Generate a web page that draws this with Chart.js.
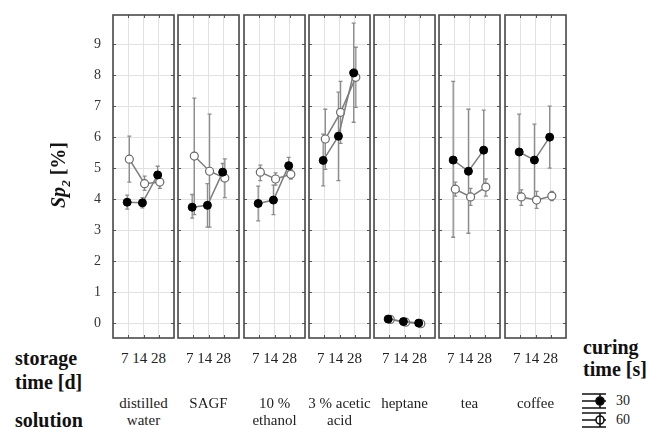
<!DOCTYPE html>
<html>
<head>
<meta charset="utf-8">
<script src="https://cdn.jsdelivr.net/npm/chart.js@4"></script>
<style>
  body { margin: 0; background: #fff; }
  #wrap { position: relative; width: 648px; height: 429px; overflow: hidden; font-family: "Liberation Serif", "Times New Roman", serif; color: #222; }
  #wrap canvas { position: absolute; }
  .t { position: absolute; white-space: nowrap; line-height: 1; }
  .b { font-weight: bold; font-size: 20px; color: #111; }
  .c { transform: translateX(-50%); text-align: center; font-size: 15px; }
</style>
</head>
<body>
<div id="wrap"></div>
<script>
// Daten: Sp2 [%] je Lösung, Lagerzeit 7/14/28 d, Aushärtezeit 30 s und 60 s
const solutions = [['distilled', 'water'], ['SAGF'], ['10 %', 'ethanol'], ['3 % acetic', 'acid'], ['heptane'], ['tea'], ['coffee']];
const days = ['7', '14', '28'];
const curing = ['30', '60'];

const mean30 = [[3.90, 3.88, 4.78], [3.74, 3.80, 4.87], [3.86, 3.97, 5.08], [5.25, 6.03, 8.07], [0.13, 0.05, 0.00], [5.26, 4.90, 5.58], [5.52, 5.26, 6.00]];
const lo30   = [[3.68, 3.72, 4.52], [3.39, 3.10, 4.60], [3.30, 3.50, 4.82], [4.43, 4.60, 6.48], [0.06, -0.02, -0.06], [2.77, 2.90, 4.30], [4.20, 4.05, 5.00]];
const hi30   = [[4.13, 4.05, 5.06], [4.15, 4.50, 5.15], [4.42, 4.45, 5.35], [6.10, 7.45, 9.68], [0.20, 0.12, 0.06], [7.80, 6.90, 6.87], [6.74, 6.42, 7.00]];

const mean60 = [[5.29, 4.50, 4.55], [5.39, 4.90, 4.68], [4.87, 4.65, 4.80], [5.94, 6.80, 7.93], [0.12, 0.03, -0.02], [4.32, 4.07, 4.39], [4.07, 3.97, 4.10]];
const lo60   = [[4.55, 4.28, 4.35], [3.50, 3.10, 4.05], [4.60, 4.45, 4.65], [4.96, 5.80, 6.96], [0.06, -0.03, -0.07], [4.10, 3.80, 4.10], [3.80, 3.70, 3.95]];
const hi60   = [[6.03, 4.74, 4.80], [7.26, 6.74, 5.30], [5.10, 4.85, 4.95], [6.90, 7.80, 8.90], [0.18, 0.08, 0.03], [4.55, 4.35, 4.65], [4.30, 4.25, 4.25]];

const yTicks = [0, 1, 2, 3, 4, 5, 6, 7, 8, 9];

const wrap = document.getElementById('wrap');
const panelLeft = [113, 178, 244, 309, 374, 439, 505];
const panelW = 61, panelTop = 15, panelBottom = 338, pad = 6;

// Rahmen + kleine Striche innen
const framePlugin = {
  id: 'frame',
  afterDraw(chart) {
    const a = chart.chartArea, ctx = chart.ctx;
    const xs = chart.scales.x, ys = chart.scales.y;
    ctx.save();
    ctx.strokeStyle = '#555';
    ctx.lineWidth = 1;
    ctx.beginPath();
    yTicks.forEach(v => {
      const y = Math.round(ys.getPixelForValue(v)) + 0.5;
      ctx.moveTo(a.left, y); ctx.lineTo(a.left + 3, y);
      ctx.moveTo(a.right, y); ctx.lineTo(a.right - 3, y);
    });
    [1, 2, 3].forEach(v => {
      const x = Math.round(xs.getPixelForValue(v)) + 0.5;
      ctx.moveTo(x, a.top); ctx.lineTo(x, a.top + 3);
      ctx.moveTo(x, a.bottom); ctx.lineTo(x, a.bottom - 3);
    });
    ctx.stroke();
    ctx.lineWidth = 1.6;
    ctx.strokeStyle = '#4a4a4a';
    ctx.strokeRect(a.left, a.top, a.right - a.left, a.bottom - a.top);
    ctx.restore();
  }
};

// Fehlerbalken
const errorPlugin = {
  id: 'errbars',
  beforeDatasetsDraw(chart) {
    const ctx = chart.ctx, xs = chart.scales.x, ys = chart.scales.y;
    ctx.save();
    ctx.strokeStyle = '#8c8c8c';
    ctx.lineWidth = 1.3;
    chart.data.datasets.forEach(ds => {
      ds.data.forEach((p, i) => {
        const x = xs.getPixelForValue(p.x);
        const y1 = ys.getPixelForValue(ds.lo[i]);
        const y2 = ys.getPixelForValue(ds.hi[i]);
        ctx.beginPath();
        ctx.moveTo(x, y1); ctx.lineTo(x, y2);
        ctx.moveTo(x - 2, y1); ctx.lineTo(x + 2, y1);
        ctx.moveTo(x - 2, y2); ctx.lineTo(x + 2, y2);
        ctx.stroke();
      });
    });
    ctx.restore();
  }
};

const dodge = [-0.07, 0.07];

solutions.forEach((sol, k) => {
  const first = k === 0;
  const cv = document.createElement('canvas');
  const left = first ? 70 : panelLeft[k] - pad;
  const w = panelLeft[k] + panelW + pad - left;
  const h = panelBottom - panelTop + 2 * pad;
  cv.width = w; cv.height = h;
  cv.style.left = left + 'px';
  cv.style.top = (panelTop - pad) + 'px';
  cv.style.width = w + 'px'; cv.style.height = h + 'px';
  wrap.appendChild(cv);

  const mk = (means, s) => means[k].map((v, i) => ({ x: i + 1 + dodge[s], y: v }));

  new Chart(cv, {
    type: 'line',
    data: {
      datasets: [
        {
          label: curing[0], data: mk(mean30, 0), lo: lo30[k], hi: hi30[k],
          borderColor: '#7d7d7d', borderWidth: 1.5,
          pointRadius: 4, pointBackgroundColor: '#000', pointBorderColor: '#000', pointBorderWidth: 1
        },
        {
          label: curing[1], data: mk(mean60, 1), lo: lo60[k], hi: hi60[k],
          borderColor: '#7d7d7d', borderWidth: 1.5,
          pointRadius: 4, pointBackgroundColor: '#fff', pointBorderColor: '#6a6a6a', pointBorderWidth: 1.2
        }
      ]
    },
    options: {
      responsive: false,
      animation: false,
      layout: { padding: { left: first ? 0 : pad, right: pad, top: pad, bottom: pad } },
      plugins: { legend: { display: false }, tooltip: { enabled: false } },
      scales: {
        x: {
          type: 'linear', min: 0, max: 4,
          ticks: { display: false, stepSize: 1 },
          grid: { color: '#e2e2e2', drawTicks: false },
          border: { display: false }
        },
        y: {
          min: -0.48, max: 9.94,
          afterBuildTicks: s => { s.ticks = yTicks.map(v => ({ value: v })); },
          afterFit: s => {
            s.width = first ? 113 - left : 0;
            s.paddingTop = 0; s.paddingBottom = 0;
          },
          ticks: {
            display: first, padding: 12,
            color: '#333', font: { family: 'Liberation Serif', size: 14 },
            callback: v => String(v)
          },
          grid: { color: '#e2e2e2', drawTicks: false },
          border: { display: false }
        }
      }
    },
    plugins: [errorPlugin, framePlugin]
  });

  // Beschriftung unter jedem Panel
  const cx = panelLeft[k] + panelW / 2;
  const d = document.createElement('div');
  d.className = 't c';
  d.style.left = cx + 'px';
  d.style.top = '351px';
  d.textContent = days.join(' ');
  wrap.appendChild(d);

  const s = document.createElement('div');
  s.className = 't c';
  s.style.left = cx + 'px';
  s.style.top = '395px';
  s.style.lineHeight = '17px';
  s.innerHTML = sol.join('<br>');
  wrap.appendChild(s);
});

function addText(html, css, cls) {
  const e = document.createElement('div');
  e.className = 't ' + (cls || '');
  e.innerHTML = html;
  Object.assign(e.style, css);
  wrap.appendChild(e);
  return e;
}

addText('<i>Sp<sub style="font-size:13px">2</sub></i> [%]',
  { left: '60px', top: '175px', transform: 'translate(-50%,-50%) rotate(-90deg)' }, 'b');
addText('storage<br>time [d]', { left: '15px', top: '346px', lineHeight: '24px' }, 'b');
addText('solution', { left: '15px', top: '410px' }, 'b');
addText('curing<br>time [s]', { left: '583px', top: '336px', lineHeight: '22px' }, 'b');
addText(curing[0], { left: '616px', top: '394px', fontSize: '14px' });
addText(curing[1], { left: '616px', top: '413px', fontSize: '14px' });

// Legendensymbole
const lg = document.createElement('canvas');
lg.width = 30; lg.height = 40;
lg.style.left = '580px'; lg.style.top = '390px';
wrap.appendChild(lg);
const g = lg.getContext('2d');
g.strokeStyle = '#111';
g.lineWidth = 1.6;
[11, 30].forEach((cy, i) => {
  g.beginPath();
  g.moveTo(2, cy - 7); g.lineTo(26, cy - 7);
  g.moveTo(2, cy); g.lineTo(26, cy);
  g.moveTo(2, cy + 7); g.lineTo(26, cy + 7);
  g.moveTo(20, cy - 7); g.lineTo(20, cy + 7);
  g.stroke();
  g.beginPath();
  g.arc(20, cy, 4, 0, Math.PI * 2);
  g.fillStyle = i === 0 ? '#000' : '#fff';
  g.fill();
  g.stroke();
  if (i === 1) {
    g.beginPath();
    g.moveTo(20, cy - 4); g.lineTo(20, cy + 4);
    g.stroke();
  }
});
</script>
</body>
</html>
